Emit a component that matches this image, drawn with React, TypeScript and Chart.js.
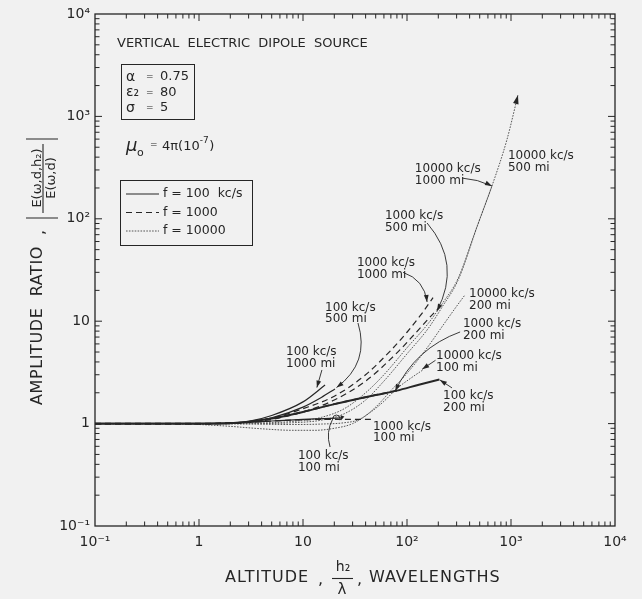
import React, { useEffect, useRef } from "react";
import { Chart, registerables } from "chart.js";

Chart.register(...registerables);

// ---------- axis ticks ----------
const axisTickValues = [0.1, 1, 10, 100, 1000, 10000];
const axisTickLabels = ["10⁻¹", "1", "10", "10²", "10³", "10⁴"];

// ---------- f = 100 kc/s (solid) ----------
const alt100kc100mi = [0.1, 1, 2, 3, 5, 10, 16, 24];
const amp100kc100mi = [1, 1, 1.01, 1.03, 1.06, 1.1, 1.12, 1.14];
const alt100kc200mi = [0.1, 1, 2, 3, 5, 10, 20, 50, 80, 130, 205];
const amp100kc200mi = [1, 1, 1.01, 1.04, 1.12, 1.3, 1.55, 1.9, 2.1, 2.4, 2.7];
const alt100kc500mi = [0.1, 1, 2, 3, 5, 10, 15, 20.3];
const amp100kc500mi = [1, 1, 1.01, 1.04, 1.14, 1.45, 1.8, 2.18];
const alt100kc1000mi = [0.1, 1, 2, 3, 5, 10, 16.3];
const amp100kc1000mi = [1, 1, 1.01, 1.05, 1.2, 1.63, 2.38];

// ---------- f = 1000 kc/s (dashed) ----------
const alt1000kc100mi = [0.1, 1, 2, 3, 5, 10, 20, 46];
const amp1000kc100mi = [1, 1, 1.01, 1.03, 1.06, 1.09, 1.1, 1.1];
const alt1000kc200mi = [0.1, 1, 2, 3, 5, 10, 20, 50, 80];
const amp1000kc200mi = [1, 1, 1.01, 1.04, 1.12, 1.3, 1.55, 1.9, 2.1];
const alt1000kc500mi = [0.1, 1, 2, 3, 5, 10, 20, 40, 80, 120, 160, 198];
const amp1000kc500mi = [1, 1, 1.01, 1.03, 1.1, 1.3, 1.7, 2.6, 4.9, 7.6, 10.5, 13.2];
const alt1000kc1000mi = [0.1, 1, 2, 3, 5, 10, 20, 40, 70, 100, 140, 178];
const amp1000kc1000mi = [1, 1, 1.01, 1.04, 1.13, 1.4, 1.85, 3.0, 5.2, 7.8, 12, 17];

// ---------- f = 10000 kc/s (dotted) ----------
const alt10000kc100mi = [0.1, 0.5, 1, 2, 4, 8, 13, 20, 30, 45, 60, 80, 110, 142];
const amp10000kc100mi = [1, 1, 0.98, 0.94, 0.89, 0.86, 0.86, 0.9, 1.0, 1.3, 1.65, 2.2, 2.8, 3.34];
const alt10000kc200mi = [0.1, 1, 3, 8, 15, 25, 35, 50, 70, 100, 150, 220, 300, 360];
const amp10000kc200mi = [1, 1, 0.99, 0.98, 0.99, 1.02, 1.1, 1.45, 2.1, 3.1, 5.2, 9, 14, 18];
const alt10000kc500mi = [0.1, 1, 3, 8, 15, 25, 40, 60, 100, 160, 220, 309, 471, 656, 912, 1167];
const amp10000kc500mi = [1, 1, 1, 1.02, 1.08, 1.25, 1.7, 2.6, 4.8, 8.5, 14, 25, 83, 209, 588, 1618];
const alt10000kc1000mi = [0.1, 1, 3, 8, 15, 25, 40, 60, 100, 160, 220, 309, 471, 656];
const amp10000kc1000mi = [1, 1, 1.01, 1.05, 1.15, 1.4, 2.0, 3.0, 5.5, 9.5, 15, 26, 84, 209];

const series = [
  { freq: 100, dist: 100, alt: alt100kc100mi, amp: amp100kc100mi },
  { freq: 100, dist: 200, alt: alt100kc200mi, amp: amp100kc200mi },
  { freq: 100, dist: 500, alt: alt100kc500mi, amp: amp100kc500mi },
  { freq: 100, dist: 1000, alt: alt100kc1000mi, amp: amp100kc1000mi },
  { freq: 1000, dist: 100, alt: alt1000kc100mi, amp: amp1000kc100mi },
  { freq: 1000, dist: 200, alt: alt1000kc200mi, amp: amp1000kc200mi },
  { freq: 1000, dist: 500, alt: alt1000kc500mi, amp: amp1000kc500mi },
  { freq: 1000, dist: 1000, alt: alt1000kc1000mi, amp: amp1000kc1000mi },
  { freq: 10000, dist: 100, alt: alt10000kc100mi, amp: amp10000kc100mi },
  { freq: 10000, dist: 200, alt: alt10000kc200mi, amp: amp10000kc200mi },
  { freq: 10000, dist: 500, alt: alt10000kc500mi, amp: amp10000kc500mi },
  { freq: 10000, dist: 1000, alt: alt10000kc1000mi, amp: amp10000kc1000mi },
];

// ---------- curve labels (data-space anchors) ----------
type Note = {
  lines: string[];
  at: [number, number];
  from?: [number, number];
  tip?: [number, number];
  bend?: number;
  hook?: boolean;
};
const notes: Note[] = [
  { lines: ["10000 kc/s", "500 mi"], at: [935, 410] },
  { lines: ["10000 kc/s", "1000 mi"], at: [119, 306], from: [338, 250], tip: [656, 209], bend: -3 },
  { lines: ["1000 kc/s", "500 mi"], at: [61.4, 106], from: [156, 91], tip: [194, 12.6], bend: -30 },
  { lines: ["1000 kc/s", "1000 mi"], at: [33, 37], from: [91.6, 30], tip: [156, 15.4], bend: -12 },
  { lines: ["100 kc/s", "500 mi"], at: [16.3, 13.5], from: [33.8, 9.6], tip: [21, 2.25], bend: -24 },
  { lines: ["100 kc/s", "1000 mi"], at: [6.87, 5.0], from: [15.2, 3.34], tip: [13.6, 2.25], bend: 0 },
  { lines: ["10000 kc/s", "200 mi"], at: [395, 18.4] },
  { lines: ["1000 kc/s", "200 mi"], at: [345, 9.4], from: [324, 7.85], tip: [77, 2.08], bend: 18 },
  { lines: ["10000 kc/s", "100 mi"], at: [190, 4.57], from: [188, 4.15], tip: [140, 3.4], bend: 0 },
  { lines: ["100 kc/s", "200 mi"], at: [222, 1.86], from: [271, 2.23], tip: [207, 2.67], bend: 0 },
  { lines: ["1000 kc/s", "100 mi"], at: [47, 0.93] },
  { lines: ["100 kc/s", "100 mi"], at: [8.95, 0.483], from: [18.2, 0.591], tip: [19.4, 1.12], bend: -6, hook: true },
];

const legendItems = [
  { freq: 100, text: "f = 100  kc/s" },
  { freq: 1000, text: "f = 1000" },
  { freq: 10000, text: "f = 10000" },
];

const paramSymbols = ["α", "ε₂", "σ"];
const paramValues = ["0.75", "80", "5"];

const FONT = '"DejaVu Sans", "Liberation Sans", sans-serif';
const INK = "#262626";
const BG = "#f1f1f1";

function styleFor(freq: number, dist: number) {
  if (freq === 100) return { dash: [] as number[], width: dist === 200 ? 2 : 1.2, color: INK };
  if (freq === 1000) return { dash: [6, 4], width: dist === 200 ? 1.6 : 1.2, color: INK };
  return { dash: [1.6, 1.3], width: 1, color: "#555" };
}

function arrowhead(ctx: CanvasRenderingContext2D, tx: number, ty: number, ang: number, len = 7, half = 2.4) {
  const c = Math.cos(ang), s = Math.sin(ang);
  ctx.beginPath();
  ctx.moveTo(tx, ty);
  ctx.lineTo(tx - len * c + half * s, ty - len * s - half * c);
  ctx.lineTo(tx - len * c - half * s, ty - len * s + half * c);
  ctx.closePath();
  ctx.fill();
}

const decor = {
  id: "decor",
  beforeDraw(chart: any) {
    const { ctx, width, height } = chart;
    ctx.save();
    ctx.fillStyle = BG;
    ctx.fillRect(0, 0, width, height);
    ctx.restore();
  },
  afterDraw(chart: any) {
    const { ctx, chartArea: a, scales } = chart;
    const xs = scales.x, ys = scales.y;
    const P = (x: number, y: number): [number, number] => [xs.getPixelForValue(x), ys.getPixelForValue(y)];
    ctx.save();
    ctx.strokeStyle = INK;
    ctx.fillStyle = INK;
    ctx.setLineDash([]);

    // frame
    ctx.lineWidth = 1.3;
    ctx.strokeRect(a.left, a.top, a.right - a.left, a.bottom - a.top);

    // inside ticks on all four sides
    ctx.lineWidth = 1;
    ctx.beginPath();
    for (let d = -1; d <= 3; d++) {
      for (let m = 1; m <= 9; m++) {
        if (d === -1 && m === 1) continue;
        const v = m * Math.pow(10, d);
        const len = m === 1 ? 7 : 4.5;
        const px = xs.getPixelForValue(v);
        ctx.moveTo(px, a.bottom); ctx.lineTo(px, a.bottom - len);
        ctx.moveTo(px, a.top); ctx.lineTo(px, a.top + len);
        const py = ys.getPixelForValue(v);
        ctx.moveTo(a.left, py); ctx.lineTo(a.left + len, py);
        ctx.moveTo(a.right, py); ctx.lineTo(a.right - len, py);
      }
    }
    ctx.stroke();

    // title
    ctx.textBaseline = "middle";
    ctx.textAlign = "left";
    ctx.font = `13px ${FONT}`;
    ctx.fillText("VERTICAL  ELECTRIC  DIPOLE  SOURCE", 117, 44);

    // parameter box
    ctx.lineWidth = 1;
    ctx.strokeRect(121.5, 64.5, 73, 55);
    paramSymbols.forEach((sym, i) => {
      const y = 77 + i * 15.5;
      ctx.font = `14px ${FONT}`;
      ctx.fillText(sym, 126, y);
      ctx.font = `9px ${FONT}`;
      ctx.fillText("=", 146, y);
      ctx.font = `13px ${FONT}`;
      ctx.fillText(paramValues[i], 160, y);
    });

    // mu0
    ctx.font = `italic 18px ${FONT}`;
    ctx.fillText("μ", 126, 146);
    ctx.font = `11px ${FONT}`;
    ctx.fillText("o", 137, 153);
    ctx.font = `9px ${FONT}`;
    ctx.fillText("=", 150, 145);
    ctx.font = `13px ${FONT}`;
    const base = "4π(10";
    ctx.fillText(base, 162, 147);
    const w1 = ctx.measureText(base).width;
    ctx.font = `9px ${FONT}`;
    const sup = "-7";
    ctx.fillText(sup, 162 + w1, 141);
    const w2 = ctx.measureText(sup).width;
    ctx.font = `13px ${FONT}`;
    ctx.fillText(")", 162 + w1 + w2 + 0.5, 147);

    // legend box
    ctx.strokeRect(120.5, 180.5, 132, 65);
    legendItems.forEach((it, i) => {
      const y = 194 + i * 18.5;
      const st = styleFor(it.freq, 0);
      ctx.save();
      ctx.strokeStyle = st.color;
      ctx.lineWidth = st.width;
      ctx.setLineDash(st.dash);
      ctx.beginPath();
      ctx.moveTo(126, y); ctx.lineTo(159, y);
      ctx.stroke();
      ctx.restore();
      ctx.font = `12.5px ${FONT}`;
      ctx.fillText(it.text, 163, y);
    });

    // curve notes
    ctx.font = `12px ${FONT}`;
    ctx.lineWidth = 0.9;
    notes.forEach((n) => {
      const [tx, ty] = P(n.at[0], n.at[1]);
      n.lines.forEach((ln, i) => ctx.fillText(ln, tx, ty + i * 11.5));
      if (n.from && n.tip) {
        const a0 = P(n.from[0], n.from[1]);
        const b0 = P(n.tip[0], n.tip[1]);
        const dx = b0[0] - a0[0], dy = b0[1] - a0[1];
        const L = Math.hypot(dx, dy) || 1;
        const bend = n.bend || 0;
        const cx = (a0[0] + b0[0]) / 2 + (-dy / L) * bend;
        const cy = (a0[1] + b0[1]) / 2 + (dx / L) * bend;
        ctx.beginPath();
        ctx.moveTo(a0[0], a0[1]);
        ctx.quadraticCurveTo(cx, cy, b0[0], b0[1]);
        ctx.stroke();
        if (n.hook) {
          ctx.beginPath();
          ctx.arc(b0[0] + 3.5, b0[1], 3.5, Math.PI, 0.15 * Math.PI, false);
          ctx.stroke();
          arrowhead(ctx, b0[0] + 8, b0[1] + 2, 0.6 * Math.PI, 5, 2);
        } else {
          arrowhead(ctx, b0[0], b0[1], Math.atan2(b0[1] - cy, b0[0] - cx));
        }
      }
    });

    // arrow at the end of the 10000 kc/s, 500 mi curve
    {
      const n = alt10000kc500mi.length;
      const e = P(alt10000kc500mi[n - 1], amp10000kc500mi[n - 1]);
      const p = P(alt10000kc500mi[n - 2], amp10000kc500mi[n - 2]);
      arrowhead(ctx, e[0], e[1], Math.atan2(e[1] - p[1], e[0] - p[0]), 9, 2.8);
    }

    // x-axis title
    ctx.font = `16px ${FONT}`;
    (ctx as any).letterSpacing = "1px";
    ctx.textAlign = "left";
    ctx.fillText("ALTITUDE", 225, 578);
    ctx.fillText(",", 318, 580);
    ctx.fillText(",", 357, 580);
    ctx.fillText("WAVELENGTHS", 369, 578);
    (ctx as any).letterSpacing = "0px";
    ctx.textAlign = "center";
    ctx.font = `14px ${FONT}`;
    ctx.fillText("h₂", 343, 567);
    ctx.font = `15px ${FONT}`;
    ctx.fillText("λ", 342, 590);
    ctx.lineWidth = 1.1;
    ctx.beginPath();
    ctx.moveTo(332, 578.5); ctx.lineTo(353, 578.5);
    ctx.stroke();

    // y-axis title (rotated)
    ctx.save();
    ctx.translate(43, 405);
    ctx.rotate(-Math.PI / 2);
    ctx.textAlign = "left";
    ctx.textBaseline = "middle";
    ctx.font = `16px ${FONT}`;
    (ctx as any).letterSpacing = "0.6px";
    ctx.fillText("AMPLITUDE  RATIO", 0, -5);
    ctx.fillText(",", 170, -3);
    (ctx as any).letterSpacing = "0px";
    ctx.lineWidth = 1.1;
    ctx.beginPath();
    ctx.moveTo(187, -17); ctx.lineTo(187, 15);
    ctx.moveTo(266, -17); ctx.lineTo(266, 15);
    ctx.moveTo(192, 0); ctx.lineTo(261, 0);
    ctx.stroke();
    ctx.textAlign = "center";
    ctx.font = `13px ${FONT}`;
    ctx.textBaseline = "alphabetic";
    ctx.fillText("E(ω,d,h₂)", 227, -2.5);
    ctx.textBaseline = "top";
    ctx.fillText("E(ω,d)", 227, 2);
    ctx.restore();

    ctx.restore();
  },
};

export default function App() {
  const ref = useRef<HTMLCanvasElement | null>(null);
  useEffect(() => {
    document.body.style.margin = "0";
    document.body.style.background = BG;
    const canvas = ref.current;
    if (!canvas) return;
    const datasets = series.map((s) => {
      const st = styleFor(s.freq, s.dist);
      return {
        label: `${s.freq} kc/s ${s.dist} mi`,
        data: s.alt.map((x, i) => ({ x, y: s.amp[i] })),
        showLine: true,
        borderColor: st.color,
        borderWidth: st.width,
        borderDash: st.dash,
        pointRadius: 0,
        cubicInterpolationMode: "monotone" as const,
        fill: false,
      };
    });
    const tickOpts = {
      font: { family: FONT, size: 14 },
      color: INK,
      autoSkip: false,
      maxRotation: 0,
      callback: (_v: any, i: number) => axisTickLabels[i],
    };
    const chart = new Chart(canvas, {
      type: "scatter",
      data: { datasets },
      options: {
        responsive: false,
        animation: false,
        events: [],
        layout: { padding: { left: 0, right: 27, top: 14, bottom: 0 } },
        plugins: { legend: { display: false }, tooltip: { enabled: false } },
        scales: {
          x: {
            type: "logarithmic",
            min: 0.1,
            max: 10000,
            afterBuildTicks: (s: any) => {
              s.ticks = axisTickValues.map((v) => ({ value: v }));
            },
            afterFit: (s: any) => {
              s.height = 73;
            },
            grid: { display: false, drawTicks: false },
            border: { display: false },
            ticks: { ...tickOpts, padding: 8 },
          },
          y: {
            type: "logarithmic",
            min: 0.1,
            max: 10000,
            afterBuildTicks: (s: any) => {
              s.ticks = axisTickValues.map((v) => ({ value: v }));
            },
            afterFit: (s: any) => {
              s.width = 95;
            },
            grid: { display: false, drawTicks: false },
            border: { display: false },
            ticks: { ...tickOpts, padding: 5 },
          },
        },
      } as any,
      plugins: [decor],
    });
    return () => chart.destroy();
  }, []);
  return (
    <div style={{ position: "absolute", left: 0, top: 0, width: 642, height: 599 }}>
      <canvas ref={ref} width={642} height={599} />
    </div>
  );
}
